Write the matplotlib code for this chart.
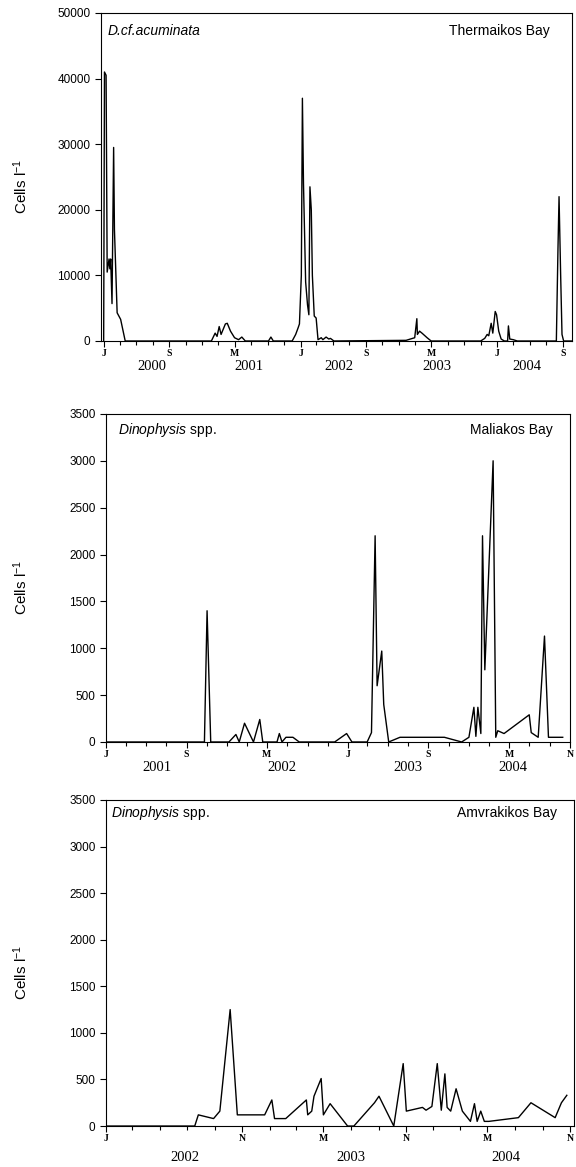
import numpy as np
import pandas as pd
import matplotlib
matplotlib.use('Agg')
import matplotlib.pyplot as plt
import matplotlib.dates as mdates

plt.rcParams['font.family'] = ['Liberation Sans', 'DejaVu Sans']
plt.rcParams['mathtext.fontset'] = 'custom'
plt.rcParams['mathtext.rm'] = 'Liberation Sans'
plt.rcParams['mathtext.it'] = 'Liberation Sans:italic'

#%% data
therm_dates = ['2000-01-01', '2000-01-04', '2000-01-10', '2000-01-14', '2000-01-21', '2000-01-24',
               '2000-01-27', '2000-02-01', '2000-02-07', '2000-02-10', '2000-02-20', '2000-03-04',
               '2000-03-21', '2001-02-04', '2001-02-18', '2001-02-25', '2001-03-05', '2001-03-12',
               '2001-03-28', '2001-04-04', '2001-04-16', '2001-05-01', '2001-05-16', '2001-05-28',
               '2001-06-10', '2001-09-04', '2001-09-13', '2001-09-22', '2001-12-01', '2001-12-14',
               '2001-12-23', '2001-12-28', '2002-01-04', '2002-01-08', '2002-01-12', '2002-01-20',
               '2002-01-27', '2002-02-01', '2002-02-05', '2002-02-10', '2002-02-14', '2002-02-21',
               '2002-02-28', '2002-03-07', '2002-03-19', '2002-03-25', '2002-04-06', '2002-04-16',
               '2002-04-22', '2002-05-05', '2003-01-28', '2003-03-01', '2003-03-09', '2003-03-11',
               '2003-03-19', '2003-03-28', '2003-04-16', '2003-04-25', '2003-05-01', '2003-11-01',
               '2003-11-16', '2003-11-25', '2003-12-01', '2003-12-10', '2003-12-16', '2003-12-25',
               '2003-12-30', '2004-01-07', '2004-01-16', '2004-01-28', '2004-02-09', '2004-02-12',
               '2004-02-17', '2004-03-01', '2004-03-16', '2004-08-08', '2004-08-14', '2004-08-18',
               '2004-08-24', '2004-08-29', '2004-09-04', '2004-10-05']
therm_cells = [0, 41000, 40500, 10500, 12500, 11000,
               12500, 5700, 29500, 17000, 4300, 3300,
               0, 0, 1200, 700, 2200, 1000,
               2600, 2700, 1500, 500, 200, 600,
               0, 0, 600, 0, 0, 1000,
               2000, 2600, 10000, 37000, 24000, 9000,
               5500, 4000, 23500, 20000, 10000, 3800,
               3500, 200, 500, 200, 600, 300,
               400, 0, 100, 500, 3400, 1000,
               1500, 1200, 500, 200, 0, 0,
               400, 1000, 800, 2700, 1200, 4500,
               4000, 1500, 300, 0, 0, 2300,
               300, 200, 0, 0, 14000, 22000,
               10000, 1000, 0, 0]

mal_dates = ['2001-01-01', '2001-10-25', '2001-11-02', '2001-11-13', '2002-01-07', '2002-01-28',
             '2002-02-07', '2002-02-23', '2002-03-22', '2002-04-10', '2002-04-19', '2002-06-01',
             '2002-06-08', '2002-06-16', '2002-06-28', '2002-07-19', '2002-08-07', '2002-11-22',
             '2002-12-28', '2003-01-13', '2003-02-28', '2003-03-13', '2003-03-24', '2003-03-30',
             '2003-04-13', '2003-04-19', '2003-05-04', '2003-06-07', '2003-10-19', '2003-12-10',
             '2004-01-01', '2004-01-16', '2004-01-22', '2004-01-28', '2004-02-06', '2004-02-11',
             '2004-02-18', '2004-03-14', '2004-03-22', '2004-03-28', '2004-04-16', '2004-07-01',
             '2004-07-07', '2004-07-28', '2004-08-16', '2004-08-28', '2004-10-10']
mal_cells = [0, 0, 1400, 0, 0, 80,
             0, 200, 0, 240, 0, 0,
             90, 0, 50, 50, 0, 0,
             90, 0, 0, 100, 2200, 600,
             970, 400, 0, 50, 50, 0,
             50, 370, 60, 370, 90, 2200,
             770, 3000, 50, 120, 90, 290,
             100, 50, 1130, 50, 50]

amv_dates = ['2002-01-01', '2002-07-18', '2002-07-26', '2002-08-29', '2002-09-12', '2002-10-05',
             '2002-10-21', '2002-12-21', '2003-01-06', '2003-01-12', '2003-02-06', '2003-03-24',
             '2003-03-27', '2003-04-05', '2003-04-10', '2003-04-26', '2003-05-01', '2003-05-16',
             '2003-06-24', '2003-07-08', '2003-08-23', '2003-09-02', '2003-10-05', '2003-10-26',
             '2003-11-02', '2003-12-08', '2003-12-16', '2003-12-29', '2004-01-10', '2004-01-19',
             '2004-01-27', '2004-02-01', '2004-02-09', '2004-02-21', '2004-03-06', '2004-03-24',
             '2004-04-02', '2004-04-08', '2004-04-16', '2004-04-24', '2004-05-04', '2004-07-09',
             '2004-08-06', '2004-09-29', '2004-10-13', '2004-10-25']
amv_cells = [0, 0, 120, 80, 160, 1250,
             120, 120, 280, 80, 80, 280,
             120, 160, 320, 510, 120, 240,
             0, 0, 250, 320, 0, 670,
             160, 200, 170, 210, 670, 170,
             560, 200, 160, 400, 160, 50,
             240, 50, 160, 50, 50, 90,
             250, 90, 250, 330]

# labelled month ticks and year captions for each panel
therm_ticks = ['2000-01-01', '2000-09-01', '2001-05-01', '2002-01-01', '2002-09-01', '2003-05-01', '2004-01-01', '2004-09-01']
therm_ticklabels = ['J', 'S', 'M', 'J', 'S', 'M', 'J', 'S']
therm_years = ['2000', '2001', '2002', '2003', '2004']
therm_year_pos = ['2000-06-28', '2001-06-25', '2002-05-22', '2003-05-22', '2004-04-22']

mal_ticks = ['2001-01-01', '2001-09-01', '2002-05-01', '2003-01-01', '2003-09-01', '2004-05-01', '2004-11-01']
mal_ticklabels = ['J', 'S', 'M', 'J', 'S', 'M', 'N']
mal_years = ['2001', '2002', '2003', '2004']
mal_year_pos = ['2001-06-04', '2002-06-16', '2003-07-01', '2004-05-13']

amv_ticks = ['2002-01-01', '2002-11-01', '2003-05-01', '2003-11-01', '2004-05-01', '2004-11-01']
amv_ticklabels = ['J', 'N', 'M', 'N', 'M', 'N']
amv_years = ['2002', '2003', '2004']
amv_year_pos = ['2002-06-25', '2003-07-01', '2004-06-12']

#%% figure
fig = plt.figure(figsize=(5.76, 11.67), dpi=100)

panels = [
    dict(rect=[0.1753, 0.7078, 0.8177, 0.2811], dates=therm_dates, cells=therm_cells,
         xlim=('1999-12-22', '2004-10-05'), ymax=50000, ystep=10000,
         ticks=therm_ticks, ticklabels=therm_ticklabels, years=therm_years, year_pos=therm_year_pos,
         species='D.cf.acuminata', site='Thermaikos Bay', sx=0.015, sy=0.946, rx=0.953,
         year_y=-0.079, ylab_x=-0.151),
    dict(rect=[0.184, 0.3642, 0.8056, 0.2811], dates=mal_dates, cells=mal_cells,
         xlim=('2001-01-01', '2004-11-01'), ymax=3500, ystep=500,
         ticks=mal_ticks, ticklabels=mal_ticklabels, years=mal_years, year_pos=mal_year_pos,
         species=r'$\it{Dinophysis}$ spp.', site='Maliakos Bay', sx=0.026, sy=0.951, rx=0.963,
         year_y=-0.079, ylab_x=-0.164),
    dict(rect=[0.184, 0.0351, 0.8125, 0.2794], dates=amv_dates, cells=amv_cells,
         xlim=('2002-01-01', '2004-11-10'), ymax=3500, ystep=500,
         ticks=amv_ticks, ticklabels=amv_ticklabels, years=amv_years, year_pos=amv_year_pos,
         species=r'$\it{Dinophysis}$ spp.', site='Amvrakikos Bay', sx=0.011, sy=0.959, rx=0.964,
         year_y=-0.098, ylab_x=-0.162),
]

for p in panels:
    ax = fig.add_axes(p['rect'])
    ax.plot(pd.to_datetime(p['dates']), p['cells'], color='black', lw=1.0)
    ax.set_xlim(pd.to_datetime(p['xlim'][0]), pd.to_datetime(p['xlim'][1]))
    ax.set_ylim(0, p['ymax'])
    ax.set_yticks(np.arange(0, p['ymax'] + 1, p['ystep']))
    ax.tick_params(axis='y', labelsize=8.5, length=4, width=0.8, direction='out')

    ax.set_xticks(pd.to_datetime(p['ticks']))
    ax.set_xticklabels(p['ticklabels'], family=['Liberation Serif', 'DejaVu Serif'],
                       fontweight='bold', fontsize=7)
    ax.xaxis.set_minor_locator(mdates.MonthLocator(bymonth=[1, 3, 5, 7, 9, 11]))
    ax.tick_params(axis='x', which='major', length=4, width=0.8, pad=2)
    ax.tick_params(axis='x', which='minor', length=3, width=0.8)

    for sp in ax.spines.values():
        sp.set_linewidth(0.8)

    xtr = ax.get_xaxis_transform()
    for yr, pos in zip(p['years'], p['year_pos']):
        ax.text(pd.to_datetime(pos), p['year_y'], yr, transform=xtr, ha='center', va='center',
                family=['Liberation Serif', 'DejaVu Serif'], fontsize=10.5)

    if p['species'].startswith('$'):
        ax.text(p['sx'], p['sy'], p['species'], transform=ax.transAxes, ha='left', va='center', fontsize=10)
    else:
        ax.text(p['sx'], p['sy'], p['species'], transform=ax.transAxes, ha='left', va='center',
                fontsize=10, style='italic')
    ax.text(p['rx'], p['sy'], p['site'], transform=ax.transAxes, ha='right', va='center', fontsize=10)

    ax.set_ylabel('Cells l$^{-1}$', fontsize=11)
    ax.yaxis.set_label_coords(p['ylab_x'], 0.47)

plt.savefig('out.png', dpi=100)
